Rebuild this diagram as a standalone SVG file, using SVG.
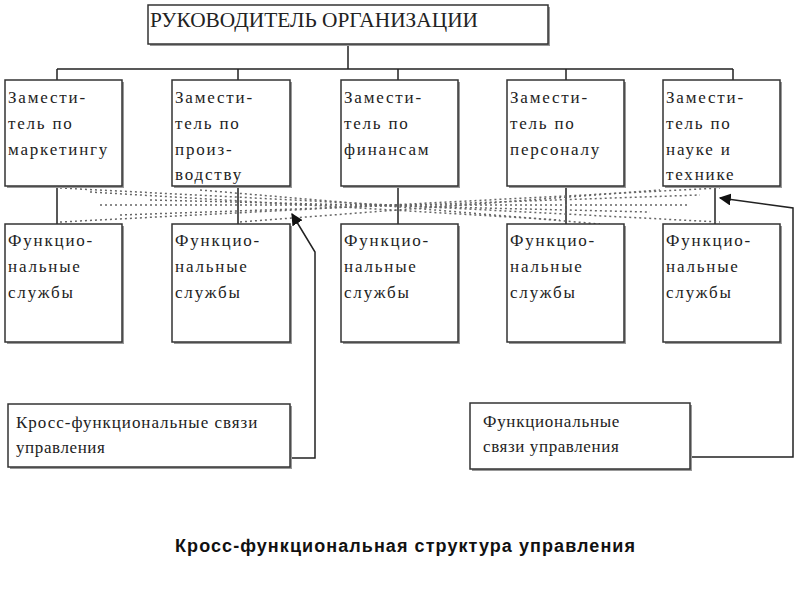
<svg xmlns="http://www.w3.org/2000/svg" width="800" height="600" viewBox="0 0 800 600">
<defs>
<style>
.b{fill:#fff;stroke:#333;stroke-width:1.5}
.sh{fill:#999}
.t{font-family:"Liberation Serif",serif;font-size:17px;letter-spacing:1.8px;fill:#222}
.g{font-family:"Liberation Serif",serif;font-size:17px;letter-spacing:0.6px;fill:#222}
.l{stroke:#222;stroke-width:1.5;fill:none}
.d{stroke:#666;stroke-width:1.5;stroke-dasharray:2 3;fill:none}
</style>
<marker id="a" viewBox="0 0 10 10" refX="9" refY="5" markerWidth="8" markerHeight="8" orient="auto-start-reverse"><path d="M0,0L10,5L0,10z" fill="#111"/></marker>
</defs>
<rect width="800" height="600" fill="#fff"/>
<g id="connectors">
<path class="l" d="M348,44V69M57,69H733M57,69V80M238,69V80M398,69V80M566,69V80M733,69V80"/>
<path class="l" d="M57,186V224M238,186V224M398,186V224M566,186V224M715,186V224"/>
<g class="d">
<path d="M60,188L720,222"/><path d="M60,222L720,188"/>
<path d="M90,192L560,220"/><path d="M120,215L700,195"/>
<path d="M150,200L650,212"/><path d="M100,205L690,205"/>
<path d="M200,190L600,224"/><path d="M240,222L660,190"/>
</g>
<path class="l" d="M290,458H315V252L292,214" marker-end="url(#a)"/>
<path class="l" d="M690,457H793V208L720,198" marker-end="url(#a)"/>
</g>
<g id="head"><rect class="sh" x="150" y="7" width="400" height="39"/><rect class="b" x="148" y="5" width="400" height="39"/><text x="150" y="27" style="font-family:'Liberation Serif',serif;font-size:21px;fill:#222" textLength="328" lengthAdjust="spacingAndGlyphs">РУКОВОДИТЕЛЬ ОРГАНИЗАЦИИ</text></g>
<g id="d1"><rect class="sh" x="7" y="82" width="117" height="106"/><rect class="b" x="5" y="80" width="117" height="106"/><text class="t" x="8" y="103">Замести-</text><text class="t" x="8" y="129">тель по</text><text class="t" x="8" y="155">маркетингу</text></g>
<g id="d2"><rect class="sh" x="174" y="82" width="118" height="106"/><rect class="b" x="172" y="80" width="118" height="106"/><text class="t" x="175" y="103">Замести-</text><text class="t" x="175" y="129">тель по</text><text class="t" x="175" y="155">произ-</text><text class="t" x="175" y="180">водству</text></g>
<g id="d3"><rect class="sh" x="343" y="82" width="117" height="106"/><rect class="b" x="341" y="80" width="117" height="106"/><text class="t" x="344" y="103">Замести-</text><text class="t" x="344" y="129">тель по</text><text class="t" x="344" y="155">финансам</text></g>
<g id="d4"><rect class="sh" x="509" y="82" width="117" height="106"/><rect class="b" x="507" y="80" width="117" height="106"/><text class="t" x="510" y="103">Замести-</text><text class="t" x="510" y="129">тель по</text><text class="t" x="510" y="155">персоналу</text></g>
<g id="d5"><rect class="sh" x="665" y="82" width="117" height="106"/><rect class="b" x="663" y="80" width="117" height="106"/><text class="t" x="666" y="103">Замести-</text><text class="t" x="666" y="129">тель по</text><text class="t" x="666" y="155">науке и</text><text class="t" x="666" y="180">технике</text></g>
<g id="f1"><rect class="sh" x="7" y="226" width="117" height="118"/><rect class="b" x="5" y="224" width="117" height="118"/><text class="t" x="8" y="246">Функцио-</text><text class="t" x="8" y="272">нальные</text><text class="t" x="8" y="298">службы</text></g>
<g id="f2"><rect class="sh" x="174" y="226" width="118" height="118"/><rect class="b" x="172" y="224" width="118" height="118"/><text class="t" x="175" y="246">Функцио-</text><text class="t" x="175" y="272">нальные</text><text class="t" x="175" y="298">службы</text></g>
<g id="f3"><rect class="sh" x="343" y="226" width="117" height="118"/><rect class="b" x="341" y="224" width="117" height="118"/><text class="t" x="344" y="246">Функцио-</text><text class="t" x="344" y="272">нальные</text><text class="t" x="344" y="298">службы</text></g>
<g id="f4"><rect class="sh" x="509" y="226" width="117" height="118"/><rect class="b" x="507" y="224" width="117" height="118"/><text class="t" x="510" y="246">Функцио-</text><text class="t" x="510" y="272">нальные</text><text class="t" x="510" y="298">службы</text></g>
<g id="f5"><rect class="sh" x="665" y="226" width="117" height="118"/><rect class="b" x="663" y="224" width="117" height="118"/><text class="t" x="666" y="246">Функцио-</text><text class="t" x="666" y="272">нальные</text><text class="t" x="666" y="298">службы</text></g>
<g id="lg1"><rect class="sh" x="10" y="406" width="282" height="63"/><rect class="b" x="8" y="404" width="282" height="63"/><text class="g" x="16" y="428" textLength="242">Кросс-функциональные связи</text><text class="g" x="16" y="453">управления</text></g>
<g id="lg2"><rect class="sh" x="472" y="405" width="220" height="66"/><rect class="b" x="470" y="403" width="220" height="66"/><text class="g" x="483" y="427" textLength="137">Функциональные</text><text class="g" x="483" y="452">связи управления</text></g>
<text x="405" y="552" text-anchor="middle" style="font-family:'Liberation Sans',sans-serif;font-size:18px;font-weight:bold;fill:#111" textLength="460">Кросс-функциональная структура управления</text>
</svg>
